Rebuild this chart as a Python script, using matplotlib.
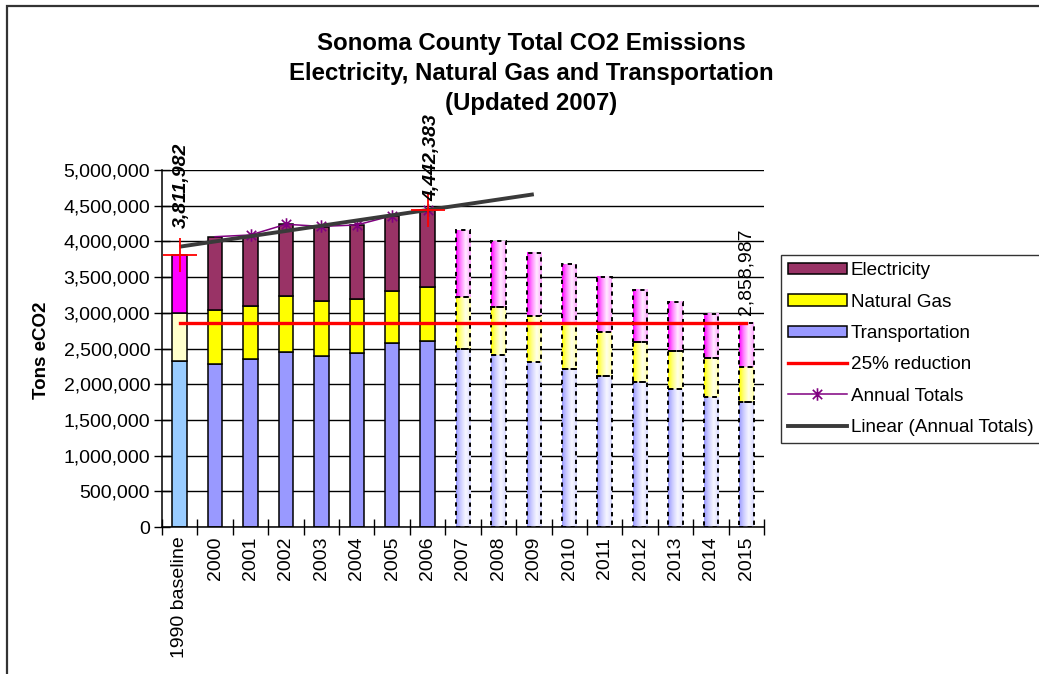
import matplotlib
matplotlib.use("Agg")
import matplotlib.pyplot as plt
import numpy as np
from matplotlib.patches import Rectangle, Patch
from matplotlib.lines import Line2D
from matplotlib.path import Path
from matplotlib.ticker import FuncFormatter, MultipleLocator, FixedLocator

plt.rcParams['font.family'] = ['Liberation Sans', 'DejaVu Sans']

# Categories and values (tons eCO2)
categories = ['1990 baseline', '2000', '2001', '2002', '2003', '2004', '2005', '2006',
              '2007', '2008', '2009', '2010', '2011', '2012', '2013', '2014', '2015']
transportation = [2330000, 2283000, 2349000, 2455000, 2390000, 2430000, 2580000, 2605000,
                  2489000, 2414000, 2307000, 2217000, 2115000, 2031000, 1928000, 1825000, 1746000]
natural_gas = [670000, 757000, 751000, 775000, 770000, 760000, 730000, 752000,
               728000, 672000, 648000, 640000, 616000, 564000, 541000, 542000, 491000]
electricity = [812000, 1026000, 980000, 1010000, 1040000, 1040000, 1050000, 1085000,
               938000, 915000, 887000, 822000, 775000, 729000, 687000, 621000, 622000]

# annual totals line (2000-2006)
totals_idx = [1, 2, 3, 4, 5, 6, 7]
annual_totals = [4066000, 4090000, 4240000, 4210000, 4230000, 4360000, 4442383]

# linear trendline (Excel forecast) end points
trend_idx = [0, 10]
trend_vals = [3926000, 4660000]

baseline_total = 3811982
total_2006 = 4442383
reduction_target = 2858987
reduction_idx = [0, 16]

n_actual = 8  # 1990 baseline + 2000..2006 are actual, rest projected

fig = plt.figure(figsize=(10.39, 6.74), dpi=100)
W, H = 1039, 674
ax = fig.add_axes([162 / W, 1 - 527 / H, (764 - 162) / W, (527 - 170) / H])

x = np.arange(len(categories))
bw = 0.41
col_t, col_g, col_e = '#9999FF', '#FFFF00', '#993366'
base_cols = ['#99CCFF', '#FFFFCC', '#FF00FF']
proj_cols = [np.array([0.6, 0.6, 1.0]), np.array([1.0, 1.0, 0.0]), np.array([1.0, 0.0, 1.0])]

t = np.linspace(0, 1, 60)
w = np.interp(t, [0, 0.3, 0.65, 1.0], [1.0, 0.5, 0.08, 0.35])

for i in range(len(categories)):
    segs = [transportation[i], natural_gas[i], electricity[i]]
    bottom = 0
    for k, h in enumerate(segs):
        if i < n_actual:
            fc = base_cols[k] if i == 0 else [col_t, col_g, col_e][k]
            ax.bar(x[i], h, bw, bottom=bottom, color=fc, edgecolor='black',
                   linewidth=1.1, zorder=2)
        else:
            c = proj_cols[k]
            img = (1 - w)[:, None] * np.ones(3) + w[:, None] * c
            ax.imshow(img[None, :, :], extent=[x[i] - bw / 2, x[i] + bw / 2, bottom, bottom + h],
                      aspect='auto', interpolation='bilinear', zorder=2)
            ax.add_patch(Rectangle((x[i] - bw / 2, bottom), bw, h, fill=False,
                                   edgecolor='black', linewidth=1.4,
                                   linestyle=(0, (2.2, 2.2)), zorder=3))
        bottom += h

# 25% reduction line
ax.plot(reduction_idx, [reduction_target] * 2, color='#FF0000', lw=2.4, zorder=4)
# annual totals
star = Path([(0, -1), (0, 1), (-0.75, -0.75), (0.75, 0.75), (-0.75, 0.75), (0.75, -0.75)],
            [Path.MOVETO, Path.LINETO] * 3)
ax.plot(totals_idx, annual_totals, color='#800080', lw=1.1, marker=star, ms=9,
        mew=1.2, markevery=list(range(1, len(totals_idx))), zorder=4)
# linear trend
ax.plot(trend_idx, trend_vals, color='#3a3a3a', lw=2.8, zorder=5, solid_capstyle='butt')

# red crosses at baseline and 2006 totals
ax.plot([0, 7], [baseline_total, total_2006], linestyle='none', marker='+', ms=24,
        mew=1.3, color='#FF0000', zorder=6)

ax.annotate(f'{baseline_total:,}', (0, baseline_total), xytext=(1, 19),
            textcoords='offset points', rotation=90, ha='center', va='bottom',
            fontsize=14, fontweight='bold', fontstyle='italic', annotation_clip=False, zorder=7)
ax.annotate(f'{total_2006:,}', (7, total_2006), xytext=(3, 6),
            textcoords='offset points', rotation=90, ha='center', va='bottom',
            fontsize=14, fontweight='bold', fontstyle='italic', annotation_clip=False, zorder=7)
ax.annotate(f'{reduction_target:,}', (16, reduction_target), xytext=(0, 6),
            textcoords='offset points', rotation=90, ha='center', va='bottom',
            fontsize=14, annotation_clip=False, zorder=7)

ax.set_xlim(-0.5, len(categories) - 0.5)
ax.set_ylim(0, 5000000)
ax.yaxis.set_major_locator(MultipleLocator(500000))
ax.yaxis.set_major_formatter(FuncFormatter(lambda v, p: f'{int(v):,}'))
ax.grid(axis='y', color='black', lw=1)
ax.set_axisbelow(True)
ax.set_xticks(x)
ax.set_xticklabels(categories, rotation=90, fontsize=14)
ax.xaxis.set_minor_locator(FixedLocator(np.arange(-0.5, len(categories), 1)))
ax.tick_params(axis='x', which='major', length=0, pad=7)
ax.tick_params(axis='x', which='minor', direction='inout', length=11, width=1)
ax.tick_params(axis='y', direction='inout', length=11, width=1, labelsize=14, pad=3)
for s in ['top', 'right']:
    ax.spines[s].set_visible(False)
for s in ['left', 'bottom']:
    ax.spines[s].set_linewidth(1.1)

fig.text(531 / W, 1 - 32 / H,
         'Sonoma County Total CO2 Emissions\nElectricity, Natural Gas and Transportation\n(Updated 2007)',
         ha='center', va='top', fontsize=17.3, fontweight='bold', linespacing=1.38)
fig.text(42 / W, 1 - 350 / H, 'Tons eCO2', rotation=90, ha='center', va='center',
         fontsize=13.5, fontweight='bold')

handles = [Patch(facecolor=col_e, edgecolor='black', lw=1.1),
           Patch(facecolor=col_g, edgecolor='black', lw=1.1),
           Patch(facecolor=col_t, edgecolor='black', lw=1.1),
           Line2D([], [], color='#FF0000', lw=2.4),
           Line2D([], [], color='#800080', lw=1.1, marker=star, ms=9, mew=1.2),
           Line2D([], [], color='#3a3a3a', lw=2.8)]
labels = ['Electricity', 'Natural Gas', 'Transportation', '25% reduction', 'Annual Totals',
          'Linear (Annual Totals)']
leg = fig.legend(handles, labels, loc='upper left', bbox_to_anchor=(781 / W, 1 - 255 / H),
                 fontsize=13.6, frameon=True, fancybox=False, edgecolor='black',
                 handlelength=3.1, handleheight=0.55, handletextpad=0.2,
                 labelspacing=0.76, borderpad=0.38, borderaxespad=0)
leg.get_frame().set_linewidth(1.0)

fig.patches.append(Rectangle((7 / W, -0.1), 1.2, 1 - 6 / H + 0.1, transform=fig.transFigure,
                             fill=False, edgecolor='#333333', lw=1.6))

fig.savefig('out.png', dpi=100)
